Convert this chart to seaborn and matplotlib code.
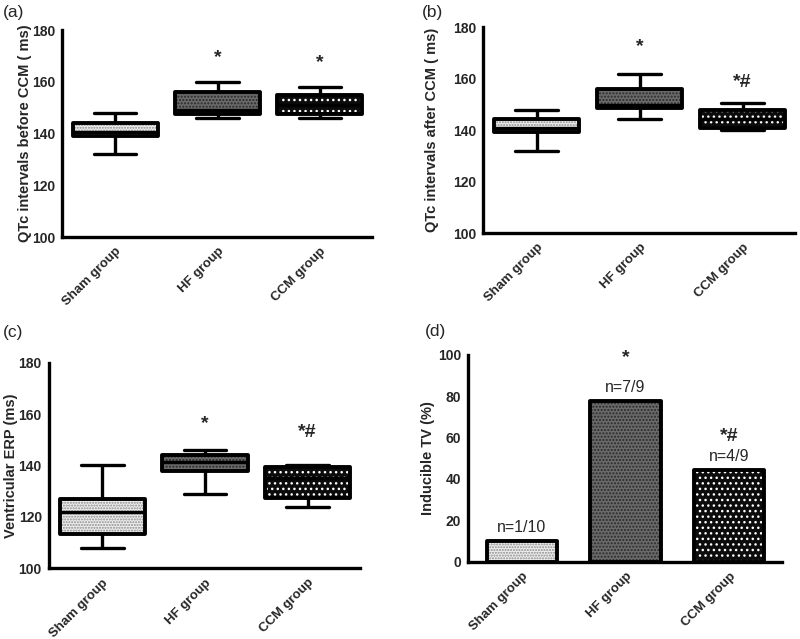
import matplotlib
matplotlib.use('Agg')
import matplotlib.pyplot as plt
from matplotlib.patches import PathPatch
import seaborn as sns
import pandas as pd

# groups and values (box = min, q1, median, q3, max)
groups = ['Sham group', 'HF group', 'CCM group']
qtc_before = [[132, 139, 140.5, 144, 148], [146, 147.5, 149, 156, 160], [146, 147.5, 151, 155, 158]]
qtc_after = [[132, 139.5, 141, 144.5, 148], [144.5, 148.5, 150, 156, 162], [140, 141, 144.5, 148, 150.5]]
erp = [[108, 113.5, 122, 127, 140], [129, 138, 141.5, 144, 146], [124, 127.5, 135, 139.5, 140]]
tv_pct = [10, 77.8, 44.4]
tv_n = ['n=1/10', 'n=7/9', 'n=4/9']
sig_a = ['', '*', '*']
sig_b = ['', '*', '*#']
sig_c = ['', '*', '*#']
sig_d = ['', '*', '*#']

sns.set_style('white')
plt.rcParams['font.family'] = ['Liberation Sans', 'DejaVu Sans']
plt.rcParams['hatch.linewidth'] = 1.0

# fill, hatch, hatch colour for each group
face = ['#eeeeee', '#6a6a6a', '#0c0c0c']
hatches = ['......', '.....', '...']
hatch_col = ['#8c8c8c', '#2a2a2a', '#ffffff']
pal = dict(zip(groups, face))

fig = plt.figure(figsize=(8, 6.39), dpi=100)
W, H = 800, 639
pos = [[0.0775, 0.629, 0.3875, 0.324],
       [0.604, 0.635, 0.390, 0.322],
       [0.061, 0.1106, 0.389, 0.322],
       [0.585, 0.121, 0.3925, 0.3235]]
axes = [fig.add_axes(p) for p in pos]
ylab_x = [-0.097, -0.141, -0.1, -0.105]


def long_df(vals):
    rows = []
    for g, v in zip(groups, vals):
        for x in v:
            rows.append({'group': g, 'value': x})
    return pd.DataFrame(rows)


def style_patches(ax, lw=2.4):
    for i, p in enumerate(ax.patches[:3]):
        p.set_facecolor(face[i])
        p.set_hatch(hatches[i])
        p.set_edgecolor(hatch_col[i])
        p.set_linewidth(0)
        outline = PathPatch(p.get_path(), transform=p.get_transform(), fill=False,
                            edgecolor='black', linewidth=lw, joinstyle='round',
                            zorder=p.get_zorder() + 0.1)
        ax.add_patch(outline)


def style_axis(ax, ylabel, ylim, yticks, lx):
    ax.set_xlim(-0.52, 2.51)
    ax.set_ylim(*ylim)
    ax.set_yticks(yticks)
    ax.set_xticks(range(3))
    ax.set_xticklabels(groups, rotation=45, ha='right', rotation_mode='anchor',
                       fontsize=9.5, fontweight='bold')
    for t in ax.get_yticklabels():
        t.set_fontsize(10)
        t.set_fontweight('bold')
    ax.set_ylabel(ylabel, fontsize=10.5, fontweight='bold')
    ax.yaxis.set_label_coords(lx, 0.5)
    ax.set_xlabel('')
    sns.despine(ax=ax)
    for s in ['left', 'bottom']:
        ax.spines[s].set_linewidth(2.4)
        ax.spines[s].set_color('black')
    ax.tick_params(axis='both', direction='out', length=4, width=2.2, color='black', pad=1)
    ax.tick_params(axis='x', length=5, pad=1)


box_sets = [(qtc_before, sig_a, 'QTc intervals before CCM ( ms)', [0, 9.5, 9.6]),
            (qtc_after, sig_b, 'QTc intervals after CCM ( ms)', [0, 10.6, 8.3]),
            (erp, sig_c, 'Ventricular ERP (ms)', [0, 10.3, 13])]

for k, (vals, sig, ylabel, off) in enumerate(box_sets):
    ax = axes[k]
    df = long_df(vals)
    sns.boxplot(data=df, x='group', y='value', hue='group', palette=pal,
                whis=(0, 100), width=0.83, linewidth=2.4, linecolor='black',
                legend=False, ax=ax)
    style_patches(ax, lw=2.8)
    for i, v in enumerate(vals):
        if sig[i]:
            ax.text(i, v[4] + off[i], sig[i], ha='center', va='center',
                    fontsize=14, fontweight='bold')
    style_axis(ax, ylabel, (100, 180), [100, 120, 140, 160, 180], ylab_x[k])

ax = axes[3]
sns.barplot(x=groups, y=tv_pct, hue=groups, palette=pal, width=0.68,
            edgecolor='black', linewidth=2.4, legend=False, ax=ax)
style_patches(ax, lw=2.8)
star_off_d = [0, 21, 16]
for i, v in enumerate(tv_pct):
    ax.text(i, v + 6.3, tv_n[i], ha='center', va='center', fontsize=11.5)
    if sig_d[i]:
        ax.text(i, v + star_off_d[i], sig_d[i], ha='center', va='center',
                fontsize=14, fontweight='bold')
style_axis(ax, 'Inducible TV (%)', (0, 100), [0, 20, 40, 60, 80, 100], ylab_x[3])

# panel letters (pixel positions of their left/centre)
for lab, (px, py) in zip(['(a)', '(b)', '(c)', '(d)'],
                         [(3, 12), (422, 12), (3, 333), (425, 332)]):
    fig.text(px / W, 1 - py / H, lab, fontsize=12.5, va='center', ha='left')

fig.savefig('out.png', dpi=100)
